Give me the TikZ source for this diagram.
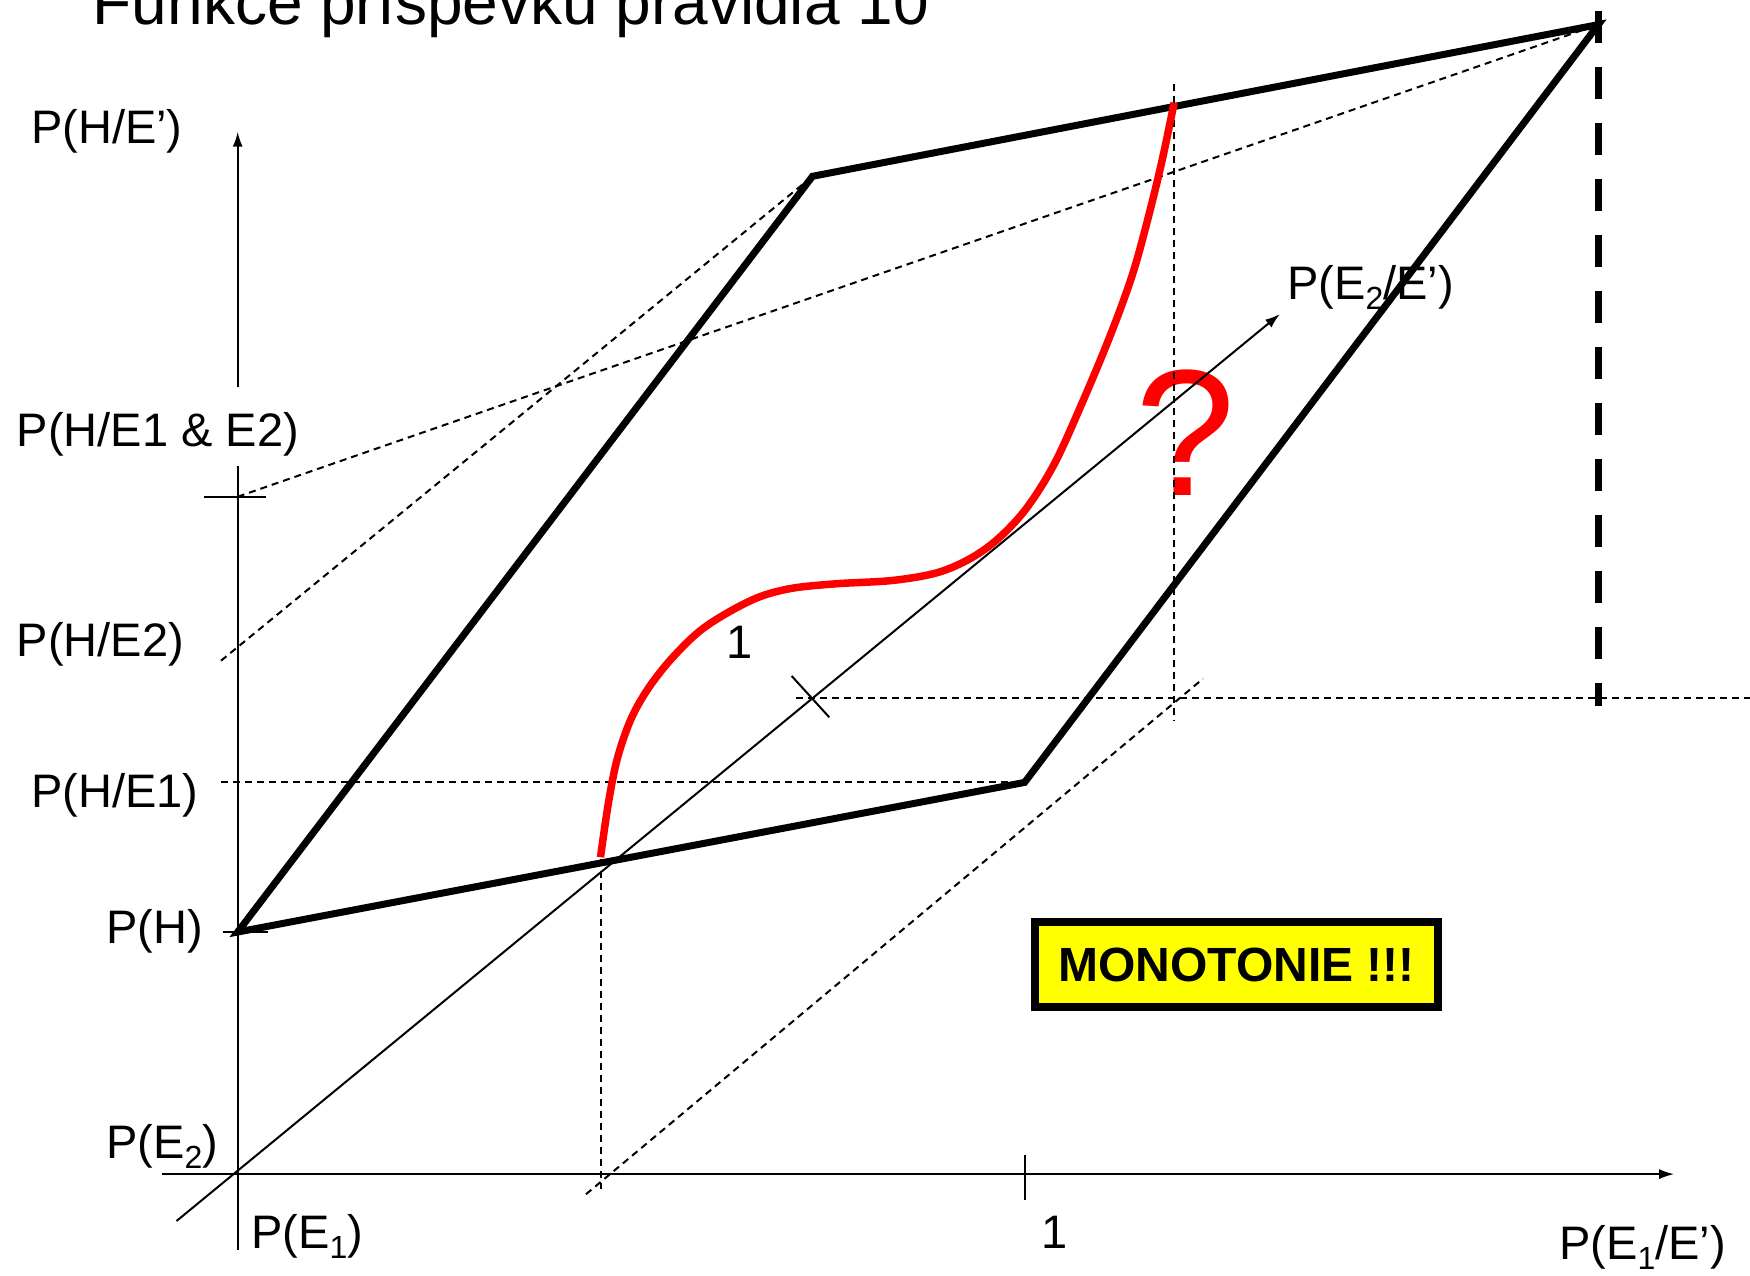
\documentclass[tikz,border=0pt]{standalone}
\usepackage{fontspec}
\setmainfont{Liberation Sans}
\usetikzlibrary{arrows.meta}
\definecolor{pptred}{RGB}{255,0,0}
\definecolor{pptyellow}{RGB}{255,255,0}
\newcommand{\mysub}[1]{\raisebox{-0.22em}{\fontsize{32}{32}\selectfont #1}}
\tikzset{
  thinline/.style={line width=2pt},
  axisarrow/.style={line width=2pt,-{Latex[length=15pt,width=10pt]}},
  thindash/.style={line width=2pt,dash pattern=on 7pt off 5pt},
  boldline/.style={line width=7pt,line join=miter},
  bolddash/.style={line width=7.5pt,dash pattern=on 32pt off 24pt},
  redcurve/.style={draw=pptred,line width=7.5pt},
  lbl/.style={font=\fontsize{47}{56}\selectfont,inner sep=0pt,anchor=base west},
  numlbl/.style={font=\fontsize{47}{56}\selectfont,inner sep=0pt,anchor=base},
  titlefont/.style={font=\fontsize{64}{72}\selectfont,inner sep=0pt,anchor=base west},
  qmark/.style={font=\fontsize{180}{190}\selectfont,text=pptred,inner sep=0pt,anchor=base},
  monobox/.style={draw=black,fill=pptyellow,line width=8pt,minimum width=403pt,minimum height=85pt,
    inner sep=0pt,font=\fontsize{48}{56}\selectfont\bfseries}
}
\begin{document}
\begin{tikzpicture}[x=1pt,y=-1pt]
\useasboundingbox (0,0) rectangle (1750,1275);
% key points
\coordinate (O) at (237.7,1174.1);
\coordinate (yBot) at (237.7,1250);
\coordinate (yTop) at (237.7,131.7);
\coordinate (xL) at (161.8,1174.1);
\coordinate (xR) at (1674.2,1174.1);
\coordinate (dL) at (176.5,1221);
\coordinate (dR) at (1280,314);
\coordinate (A) at (237.7,932);
\coordinate (B) at (812.5,176.3);
\coordinate (C) at (1598.3,24.6);
\coordinate (D) at (1024.6,782.4);
% ticks
\coordinate (xt1) at (1024.6,1155.2);
\coordinate (xt2) at (1024.6,1199.8);
\coordinate (yt1) at (204.2,496.7);
\coordinate (yt2) at (265.6,496.7);
\coordinate (Y12) at (237.7,496.7);
\coordinate (ht1) at (223.2,932);
\coordinate (ht2) at (267.9,932);
\coordinate (ct1) at (791.7,676);
\coordinate (ct2) at (829.3,717.3);
% dashed helpers
\coordinate (h1L) at (796,697.5);
\coordinate (h1R) at (1750,697.5);
\coordinate (v1T) at (1174.1,83.7);
\coordinate (v1B) at (1174.1,720);
\coordinate (h2L) at (221,782.4);
\coordinate (v2T) at (600.5,859);
\coordinate (v2B) at (600.5,1188.6);
\coordinate (g1L) at (586,1194.2);
\coordinate (g1R) at (1203.1,678.6);
\coordinate (g2L) at (221,660.7);
\coordinate (vdT) at (1598.3,11);
\coordinate (vdB) at (1598.3,706);

% title
\node[titlefont] (title) at (92.6,24.5) {Funkce příspěvku pravidla 10};

% question mark (under the lines)
\node[qmark] (q) at (1186,495) {?};

% axes
\draw[axisarrow] (yBot) -- (yTop);
\draw[axisarrow] (xL) -- (xR);
\draw[axisarrow] (dL) -- (dR);
\draw[thinline] (xt1) -- (xt2);
\draw[thinline] (yt1) -- (yt2);
\draw[thinline] (ht1) -- (ht2);
\draw[thinline] (ct1) -- (ct2);

% thin dashed lines
\draw[thindash] (h1L) -- (h1R);
\draw[thindash] (v1T) -- (v1B);
\draw[thindash] (h2L) -- (D);
\draw[thindash] (v2T) -- (v2B);
\draw[thindash] (g1L) -- (g1R);
\draw[thindash] (g2L) -- (B);
\draw[thindash] (Y12) -- (C);

% labels
\node[lbl] (lHE) at (31,143) {P(H/E’)};
\node[lbl,fill=white,text height=52pt,text depth=11pt,inner ysep=8pt,inner xsep=2pt] (lHE12) at (14.7,446.5) {P(H/E1 \& E2)};
\node[lbl] (lHE2) at (16.7,656) {P(H/E2)};
\node[lbl] (lHE1) at (31,807) {P(H/E1)};
\node[lbl] (lH) at (106,943) {P(H)};
\node[lbl] (lE2) at (106,1158) {P(E\mysub{2})};
\node[lbl] (lE1) at (251,1248) {P(E\mysub{1})};
\node[numlbl] (one1) at (1054.7,1248) {1};
\node[lbl] (lE1E) at (1559,1259) {P(E\mysub{1}/E’)};
\node[lbl] (lE2E) at (1287,299) {P(E\mysub{2}/E’)};
\node[numlbl] (one2) at (740,658.5) {1};

% thick parallelogram and dashed vertical
\draw[bolddash] (vdT) -- (vdB);
\draw[boldline] (A) -- (B) -- (C) -- (D) -- cycle;

% red curve
\draw[redcurve] plot[smooth,tension=0.55] coordinates {
(600.5,857.2) (608.3,803.6) (617.2,759.0) (630.6,719.9) (647.3,689.8)
(669.7,660.7) (697.6,632.8) (725.5,613.9) (758.9,597.1) (792.4,588.2)
(837.1,583.7) (892.9,580.4) (937.5,572.6) (971.0,558.1) (998.9,538.0)
(1026.8,507.8) (1054.7,463.2) (1082.6,401.8) (1110.5,334.8) (1132.8,273.4)
(1149.6,212.1) (1163.0,156.3) (1174.1,102.7)};

% monotonie box
\node[monobox] (mono) at (1236.5,964.5) {MONOTONIE !!!};
\end{tikzpicture}
\end{document}
